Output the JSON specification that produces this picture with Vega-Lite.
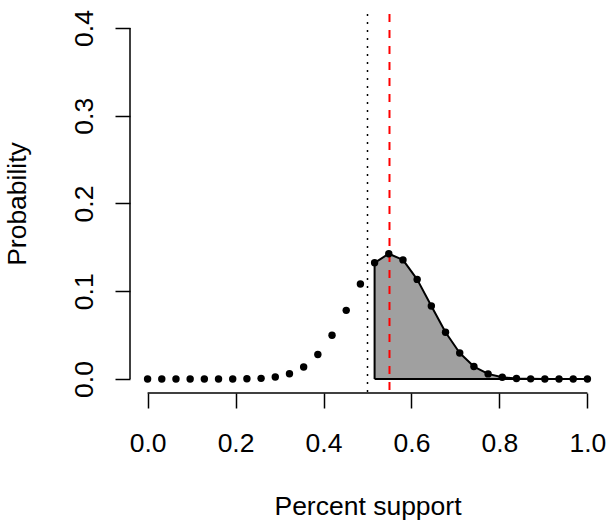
{
  "$schema": "https://vega.github.io/schema/vega-lite/v6.json",
  "width": 475,
  "height": 379,
  "autosize": {"type": "none"},
  "padding": {"left": 130, "top": 14, "right": 5, "bottom": 128},
  "background": "white",
  "config": {"view": {"stroke": null}, "font": "Liberation Sans"},
  "datasets": {
    "pmf": [
      {"k": 0, "x": 0.0, "p": 0.000000000018},
      {"k": 1, "x": 0.032258, "p": 0.00000000067},
      {"k": 2, "x": 0.064516, "p": 0.0000000123},
      {"k": 3, "x": 0.096774, "p": 0.000000146},
      {"k": 4, "x": 0.129032, "p": 0.00000125},
      {"k": 5, "x": 0.16129, "p": 0.0000082},
      {"k": 6, "x": 0.193548, "p": 0.0000436},
      {"k": 7, "x": 0.225806, "p": 0.00019},
      {"k": 8, "x": 0.258065, "p": 0.000698},
      {"k": 9, "x": 0.290323, "p": 0.00218},
      {"k": 10, "x": 0.322581, "p": 0.00586},
      {"k": 11, "x": 0.354839, "p": 0.01368},
      {"k": 12, "x": 0.387097, "p": 0.02786},
      {"k": 13, "x": 0.419355, "p": 0.04976},
      {"k": 14, "x": 0.451613, "p": 0.0782},
      {"k": 15, "x": 0.483871, "p": 0.10832},
      {"k": 16, "x": 0.516129, "p": 0.13239},
      {"k": 17, "x": 0.548387, "p": 0.14277},
      {"k": 18, "x": 0.580645, "p": 0.13572},
      {"k": 19, "x": 0.612903, "p": 0.1135},
      {"k": 20, "x": 0.645161, "p": 0.08323},
      {"k": 21, "x": 0.677419, "p": 0.05329},
      {"k": 22, "x": 0.709677, "p": 0.0296},
      {"k": 23, "x": 0.741935, "p": 0.01416},
      {"k": 24, "x": 0.774194, "p": 0.00577},
      {"k": 25, "x": 0.806452, "p": 0.00197},
      {"k": 26, "x": 0.83871, "p": 0.000557},
      {"k": 27, "x": 0.870968, "p": 0.000126},
      {"k": 28, "x": 0.903226, "p": 0.000022},
      {"k": 29, "x": 0.935484, "p": 0.0000028},
      {"k": 30, "x": 0.967742, "p": 0.00000023},
      {"k": 31, "x": 1.0, "p": 0.0000000089}
    ],
    "poly": [
      {"i": 0, "x": 0.516129, "p": 0},
      {"i": 1, "x": 0.516129, "p": 0.13239},
      {"i": 2, "x": 0.548387, "p": 0.14277},
      {"i": 3, "x": 0.580645, "p": 0.13572},
      {"i": 4, "x": 0.612903, "p": 0.1135},
      {"i": 5, "x": 0.645161, "p": 0.08323},
      {"i": 6, "x": 0.677419, "p": 0.05329},
      {"i": 7, "x": 0.709677, "p": 0.0296},
      {"i": 8, "x": 0.741935, "p": 0.01416},
      {"i": 9, "x": 0.774194, "p": 0.00577},
      {"i": 10, "x": 0.806452, "p": 0.00197},
      {"i": 11, "x": 0.83871, "p": 0.000557},
      {"i": 12, "x": 0.870968, "p": 0.000126},
      {"i": 13, "x": 0.903226, "p": 0.000022},
      {"i": 14, "x": 0.935484, "p": 0.0000028},
      {"i": 15, "x": 0.967742, "p": 0.00000023},
      {"i": 16, "x": 1.0, "p": 0.0000000089},
      {"i": 17, "x": 1.0, "p": 0},
      {"i": 18, "x": 0.516129, "p": 0}
    ],
    "one": [{}]
  },
  "layer": [
    {
      "data": {"name": "pmf"},
      "transform": [{"filter": "datum.k >= 16"}],
      "mark": {"type": "area", "color": "#A0A0A0", "opacity": 1},
      "encoding": {
        "x": {
          "field": "x", "type": "quantitative",
          "scale": {"domain": [-0.04, 1.04], "nice": false, "zero": false},
          "axis": {
            "values": [0, 0.2, 0.4, 0.6, 0.8, 1],
            "format": ".1f",
            "title": "Percent support",
            "domain": false, "grid": false,
            "tickSize": 15, "tickWidth": 1.5, "tickColor": "black",
            "labelFontSize": 26.5, "labelColor": "black", "labelPadding": 43,
            "labelBaseline": "alphabetic", "labelFlush": false, "labelOverlap": false,
            "titleFontSize": 26.5, "titleFontWeight": "normal", "titleColor": "black",
            "titleX": 237.5, "titleY": 121, "titleBaseline": "alphabetic", "titleAlign": "center"
          }
        },
        "y": {
          "field": "p", "type": "quantitative",
          "scale": {"domain": [-0.016, 0.416], "nice": false, "zero": false},
          "axis": {
            "values": [0, 0.1, 0.2, 0.3, 0.4],
            "format": ".1f",
            "title": "Probability",
            "domain": false, "grid": false,
            "tickSize": 15, "tickWidth": 1.5, "tickColor": "black",
            "labelFontSize": 26.5, "labelColor": "black", "labelPadding": 23,
            "labelAngle": 270, "labelAlign": "center", "labelBaseline": "alphabetic",
            "labelFlush": false, "labelOverlap": false,
            "titleFontSize": 26.5, "titleFontWeight": "normal", "titleColor": "black",
            "titleAngle": 270, "titleX": -105, "titleY": 189.5, "titleBaseline": "alphabetic", "titleAlign": "center"
          }
        },
        "y2": {"datum": 0}
      }
    },
    {
      "data": {"name": "poly"},
      "mark": {"type": "line", "color": "black", "strokeWidth": 2, "strokeJoin": "round"},
      "encoding": {
        "x": {"field": "x", "type": "quantitative"},
        "y": {"field": "p", "type": "quantitative"},
        "order": {"field": "i", "type": "quantitative"}
      }
    },
    {
      "data": {"name": "one"},
      "mark": {"type": "rule", "color": "black", "strokeWidth": 1.5, "strokeDash": [2, 6]},
      "encoding": {"x": {"datum": 0.5}}
    },
    {
      "data": {"name": "one"},
      "mark": {"type": "rule", "color": "#FF0000", "strokeWidth": 2, "strokeDash": [8, 8]},
      "encoding": {"x": {"datum": 0.55}}
    },
    {
      "data": {"name": "one"},
      "mark": {"type": "rule", "color": "black", "strokeWidth": 1.5},
      "encoding": {"x": {"datum": 0}, "x2": {"datum": 1}, "y": {"datum": -0.016}}
    },
    {
      "data": {"name": "one"},
      "mark": {"type": "rule", "color": "black", "strokeWidth": 1.5},
      "encoding": {"x": {"datum": -0.04}, "y": {"datum": 0}, "y2": {"datum": 0.4}}
    },
    {
      "data": {"name": "pmf"},
      "mark": {"type": "circle", "color": "black", "opacity": 1, "size": 55},
      "encoding": {
        "x": {"field": "x", "type": "quantitative"},
        "y": {"field": "p", "type": "quantitative"}
      }
    }
  ]
}
